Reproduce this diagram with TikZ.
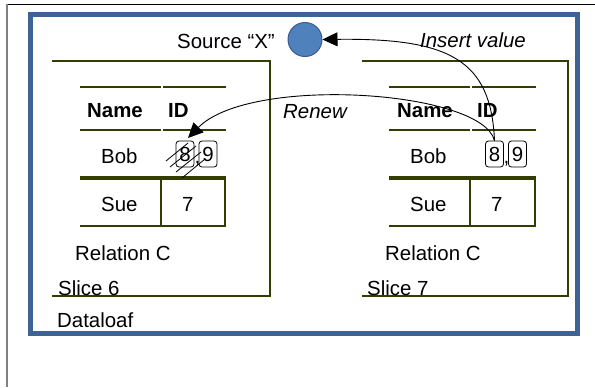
\documentclass[tikz,border=0pt]{standalone}
\usepackage{fontspec}
\setmainfont{Liberation Sans}
\usetikzlibrary{arrows.meta}
\definecolor{olivedk}{RGB}{51,61,0}
\definecolor{frameblue}{RGB}{61,98,148}
\definecolor{dotblue}{RGB}{79,129,189}
\definecolor{dotedge}{RGB}{56,93,138}
\begin{document}
\begin{tikzpicture}[x=1bp,y=-1bp,
  txt/.style={inner sep=0pt, anchor=base west, font=\fontsize{20.5}{24}\selectfont},
  btxt/.style={txt, font=\fontsize{20.5}{24}\selectfont\bfseries},
  itxt/.style={txt, font=\fontsize{20.5}{24}\selectfont\itshape},
  valbox/.style={draw, rounded corners=3bp, minimum width=18bp, minimum height=26bp, inner sep=0pt, line width=0.8bp, font=\fontsize{20.5}{24}\selectfont},
  slicebox/.style={draw=olivedk, line width=2.2bp},
  tline/.style={draw=olivedk, line width=2.6bp},
  mline/.style={draw=olivedk, line width=1.8bp},
  sline/.style={draw=olivedk, line width=3.5bp},
  cell/.style={draw=olivedk, line width=2bp},
  conn/.style={draw=black, line width=0.9bp, -{Triangle[length=15bp,width=14bp]}},
  hatch/.style={draw=black, line width=0.8bp}]
\useasboundingbox (0,0) rectangle (595,387);
% outer frame
\draw[black, line width=1bp] (7,4) -- (595,4);
\draw[gray, line width=2.2bp] (7,4) -- (7,387);
% Dataloaf frame
\draw[frameblue, line width=5bp] (30.5,14.5) rectangle (577,333);
% slice boxes
\draw[slicebox] (52,61) -- (270,61) -- (270,296) -- (52,296);
\draw[slicebox] (362,61) -- (568,61) -- (568,296) -- (362,296);
% left table lines
\draw[tline] (80,87) -- (161,87); \draw[tline] (163,87) -- (226,87);
\draw[mline] (80,130) -- (161,130); \draw[mline] (163,130) -- (226,130);
\draw[sline] (80,178) -- (226,178);
\draw[cell] (80,226) -- (225,226) -- (225,178);
\draw[cell] (161,178) -- (161,226);
% right table lines
\draw[tline] (389,87) -- (470,87); \draw[tline] (472,87) -- (536,87);
\draw[mline] (389,130) -- (470,130); \draw[mline] (472,130) -- (536,130);
\draw[sline] (389,178) -- (536,178);
\draw[cell] (389,226) -- (535,226) -- (535,178);
\draw[cell] (470,178) -- (470,226);
% texts left
\node[btxt] (lname) at (87,117) {Name};
\node[btxt] (lid) at (168,117) {ID};
\node[txt] (lbob) at (101,163) {Bob};
\node[valbox] (l8) at (185,154) {8};
\node[txt] (lcomma) at (194.5,163) {,};
\node[valbox] (l9) at (208,154) {9};
\node[txt] (lsue) at (101,211) {Sue};
\node[txt] (l7) at (182,211) {7};
\node[txt] (lrel) at (75,260) {Relation C};
\node[txt] (lslice) at (58,295) {Slice 6};
\node[txt] (dataloaf) at (57,327) {Dataloaf};
% texts right
\node[btxt] (rname) at (397,117) {Name};
\node[btxt] (rid) at (477,117) {ID};
\node[txt] (rbob) at (410,163) {Bob};
\node[valbox] (r8) at (494.5,154) {8};
\node[txt] (rcomma) at (503.5,163) {,};
\node[valbox] (r9) at (517.5,154) {9};
\node[txt] (rsue) at (410,211) {Sue};
\node[txt] (r7) at (491,211) {7};
\node[txt] (rrel) at (385,260) {Relation C};
\node[txt] (rslice) at (367,295) {Slice 7};
% source
\node[txt] (srclbl) at (177,48) {Source “X”};
\node[circle, fill=dotblue, draw=dotedge, line width=1bp, minimum size=34bp, inner sep=0pt] (src) at (305,39.5) {};
\node[itxt] (ins) at (420,47) {Insert value};
\node[itxt] (renew) at (283,118) {Renew};
% hatch over left 8
\draw[hatch] (166,161) -- (188,143);
\draw[hatch] (170,167) -- (196,146);
\draw[hatch] (176,172) -- (201,152);
\draw[hatch] (182,178) -- (205,159);
% connectors
\draw[conn] (r8.north) .. controls (491,60) and (450,38) .. (src.east);
\coordinate (renewend) at (188,138);
\draw[conn] (r8.north) .. controls (482,90) and (250,75) .. (renewend);
\end{tikzpicture}
\end{document}
